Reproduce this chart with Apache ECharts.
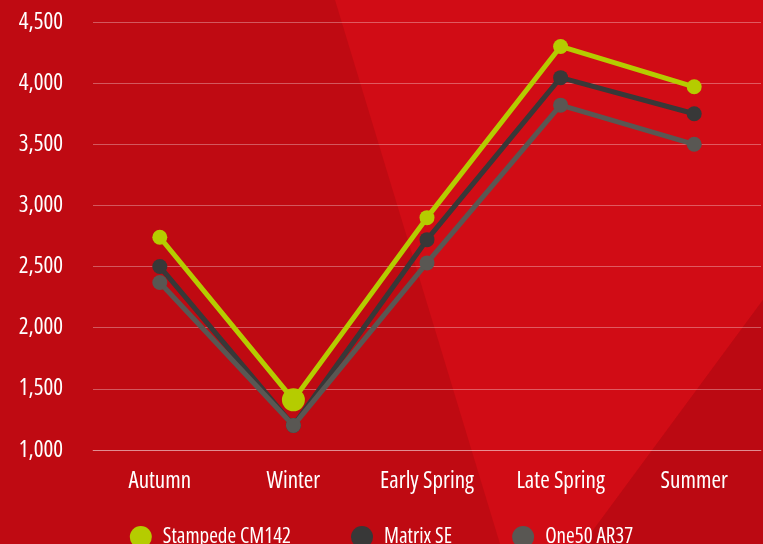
<!DOCTYPE html>
<html>
<head>
<meta charset="utf-8">
<script src="https://cdn.jsdelivr.net/npm/echarts@6/dist/echarts.min.js"></script>
<style>
  html, body { margin: 0; padding: 0; }
  #chart { width: 763px; height: 544px; }
</style>
</head>
<body>
<div id="chart"></div>
<script>
const seasons = ['Autumn', 'Winter', 'Early Spring', 'Late Spring', 'Summer'];
const stampede = [2740, 1410, 2900, 4300, 3970];
const matrix = [2500, 1200, 2720, 4045, 3750];
const one50 = [2370, 1200, 2530, 3820, 3500];

const font = '"Open Sans", sans-serif';
// stretch keyword goes into the canvas font shorthand through fontWeight
const narrow = 'condensed';
const gridLine = 'rgba(255,255,255,0.32)';

function lineSeries(name, data, color, z) {
  return {
    name: name,
    type: 'line',
    data: data,
    z: z,
    symbol: 'circle',
    symbolSize: 15,
    lineStyle: { width: 5, color: color },
    itemStyle: { color: color }
  };
}

const chart = echarts.init(document.getElementById('chart'));

const stampedeSeries = lineSeries('Stampede CM142', stampede.map(function (v, i) {
  // winter point is shown enlarged in the original
  return i === 1 ? { value: v, symbolSize: 23 } : v;
}), '#b5cc00', 5);

chart.setOption({
  backgroundColor: '#bf0a12',
  animation: false,
  graphic: [
    {
      type: 'polygon',
      z: -10,
      shape: { points: [[335, 0], [763, 0], [763, 300], [583, 544], [500, 544]] },
      style: { fill: '#d10c15' }
    },
    {
      type: 'polygon',
      z: -10,
      shape: { points: [[763, 300], [763, 544], [583, 544]] },
      style: { fill: '#bb0912' }
    }
  ],
  grid: { left: 93, right: 2, top: 22, bottom: 94 },
  legend: {
    top: 521,
    left: 'center',
    itemWidth: 22,
    itemHeight: 22,
    itemGap: 60,
    icon: 'circle',
    textStyle: { color: '#fff', fontFamily: font, fontWeight: narrow, fontSize: 21, padding: [0, 0, 0, 6] },
    data: ['Stampede CM142', 'Matrix SE', 'One50 AR37']
  },
  xAxis: {
    type: 'category',
    data: seasons,
    boundaryGap: true,
    axisLine: { lineStyle: { color: gridLine, width: 1 } },
    axisTick: { alignWithLabel: true, length: 10, lineStyle: { color: gridLine } },
    axisLabel: { color: '#fff', fontFamily: font, fontWeight: narrow, fontSize: 23, margin: 20, interval: 0 }
  },
  yAxis: {
    type: 'value',
    min: 1000,
    max: 4500,
    interval: 500,
    axisLine: { show: false },
    axisTick: { show: false },
    splitLine: { lineStyle: { color: gridLine, width: 1 } },
    axisLabel: {
      color: '#fff',
      fontFamily: font,
      fontWeight: narrow,
      fontSize: 23,
      margin: 30,
      formatter: function (v) { return v.toLocaleString('en-US'); }
    }
  },
  series: [
    stampedeSeries,
    lineSeries('Matrix SE', matrix, '#383838', 3),
    lineSeries('One50 AR37', one50, '#595753', 4)
  ]
});
</script>
</body>
</html>
